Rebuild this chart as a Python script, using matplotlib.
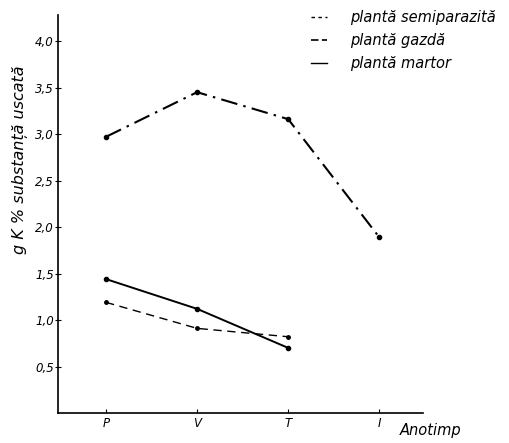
import matplotlib
matplotlib.use("Agg")
import matplotlib.pyplot as plt

# anotimp (season) categories
anotimpuri = ['P', 'V', 'T', 'I']
# g K % substanta uscata
semiparazita = [2.97, 3.45, 3.16, 1.89]
gazda = [1.19, 0.91, 0.82]
martor = [1.44, 1.12, 0.70]

yticks = [0.5, 1.0, 1.5, 2.0, 2.5, 3.0, 3.5, 4.0]

font = dict(family='DejaVu Sans', style='italic')

fig = plt.figure(figsize=(5.1, 4.43), dpi=100)
ax = fig.add_axes([58/510, 1 - 413/443, 365/510, 398/443])

x = list(range(len(anotimpuri)))
l1, = ax.plot(x, semiparazita, color='k', lw=1.5, dashes=(8, 3, 1.2, 3),
              marker='o', ms=3, label='plantă semiparazită')
l2, = ax.plot(x[:3], gazda, color='k', lw=1.0, dashes=(6, 4),
              marker='o', ms=2.5, label='plantă gazdă')
l3, = ax.plot(x[:3], martor, color='k', lw=1.4,
              marker='o', ms=3, label='plantă martor')

ax.set_xlim(-0.527, 3.48)
ax.set_ylim(0, 4.28)

for s in ['top', 'right']:
    ax.spines[s].set_visible(False)
for s in ['left', 'bottom']:
    ax.spines[s].set_linewidth(1.2)

ax.set_yticks(yticks)
ax.set_yticklabels([('%.1f' % v).replace('.', ',') for v in yticks],
                   fontsize=8.5, **font)
ax.set_xticks(x)
ax.set_xticklabels(anotimpuri, fontsize=8.5, **font)
ax.tick_params(axis='y', direction='inout', length=4, width=0.8, pad=1)
ax.tick_params(axis='x', direction='in', length=3, width=0.8, pad=3)

fig.text(20/510, 1 - 160/443, 'g K % substanță uscată', rotation=90,
         ha='center', va='center', fontsize=11.5, **font)
fig.text(400/510, 1 - 431/443, 'Anotimp', ha='left', va='center',
         fontsize=10.5, **font)

leg_sp = ax.plot([], [], color='k', lw=1.0, dashes=(2.5, 2.5))[0]
leg_gz = ax.plot([], [], color='k', lw=1.2, dashes=(4.5, 2))[0]
leg_mr = ax.plot([], [], color='k', lw=1.0)[0]
fig.legend([leg_sp, leg_gz, leg_mr],
           ['plantă semiparazită', 'plantă gazdă', 'plantă martor'],
           loc='upper left', bbox_to_anchor=(311/510, 1 - 10/443),
           frameon=False, handlelength=1.1, handletextpad=1.6,
           labelspacing=0.55, borderpad=0, borderaxespad=0,
           prop=dict(size=10.5, **font))

fig.savefig('out.png', dpi=100)
